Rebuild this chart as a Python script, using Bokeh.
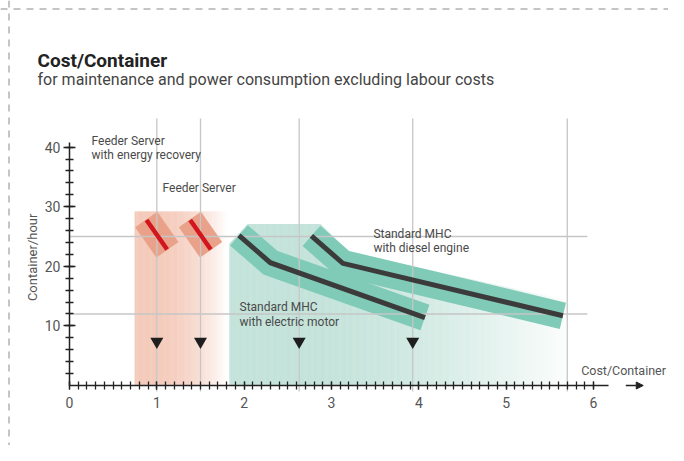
import numpy as np
from bokeh.plotting import figure
from bokeh.models import (Range1d, LinearAxis, FixedTicker, Label, Span, Arrow, NormalHead)
from bokeh.embed import file_html
from bokeh.resources import INLINE

# ---------------- data ----------------
x_ticks = [0, 1, 2, 3, 4, 5, 6]
x_minor = [round(0.1 * i, 1) for i in range(61)]
y_ticks = [10, 20, 30, 40]
y_minor = list(range(2, 41, 2))

# reference lines
vline_x = [1.0, 1.5, 2.63, 3.93, 5.7]
hline_y = [25, 12]

# markers (cost per container)
marker_x = [1.0, 1.5, 2.63, 3.93]
marker_y = [7.4, 7.4, 7.4, 7.4]

# Feeder Server boxes
feeder_x = [1.0, 1.5]
feeder_y = [25.3, 25.3]

# Standard MHC with electric motor
elec_x = [1.94, 2.30, 4.07]
elec_y = [25.2, 20.6, 11.4]

# Standard MHC with diesel engine
dies_x = [2.77, 3.13, 5.65]
dies_y = [25.1, 20.5, 11.7]

# background regions
feeder_region = dict(x0=0.745, x1=1.80, top=29.2)
mhc_top_x = [1.83, 2.04, 2.87, 3.2, 5.7]
mhc_top_y = [23.8, 27.1, 27.1, 22.3, 14.3]

# ---------------- colours ----------------
SALMON_BG = (244, 203, 187)
TEAL_BG = (196, 227, 218)
BAND = "#80cab8"
BOX = "#e9a189"
RED = "#d2161e"
DARK = "#3b3b3b"
GRID = "#c6c6c6"
FONT = "Roboto"


def mix(c, t):
    return "#%02x%02x%02x" % tuple(int(round(ci + (255 - ci) * t)) for ci in c)


# pixel mapping: frame covers whole canvas
W, H = 668, 445
sx = 87.33
sy = 5.96
x0 = -69 / sx
y1 = 385 / sy
p = figure(width=W, height=H, x_range=Range1d(x0, x0 + W / sx), y_range=Range1d(y1 - H / sy, y1),
           x_axis_location=None, y_axis_location=None, toolbar_location=None,
           output_backend="svg", min_border=0, outline_line_color=None,
           background_fill_color="white", border_fill_color="white")
p.grid.grid_line_color = None

# ---- gradient backgrounds ----
step = 0.01
xs = np.arange(feeder_region["x0"], feeder_region["x1"], step)
t = np.clip((xs - 0.9) / (feeder_region["x1"] - 0.9), 0, 1) ** 2.2
p.quad(left=xs, right=xs + step * 1.6, bottom=0, top=feeder_region["top"],
       fill_color=[mix(SALMON_BG, v) for v in t], line_color=None)

xs2 = np.arange(mhc_top_x[0], mhc_top_x[-1], step)
t2 = np.clip((xs2 - 2.8) / (5.74 - 2.8), 0, 1) ** 1.5 * 0.96
tops = np.interp(xs2 + step / 2, mhc_top_x, mhc_top_y)
p.quad(left=xs2, right=np.minimum(xs2 + step * 1.6, mhc_top_x[-1]), bottom=0, top=tops,
       fill_color=[mix(TEAL_BG, v) for v in t2], line_color=None)

# ---- bands ----
p.line(elec_x, elec_y, line_width=27, line_color=BAND, line_join="miter", line_cap="butt")
p.line(dies_x, dies_y, line_width=27, line_color=BAND, line_join="miter", line_cap="butt")

# ---- feeder boxes ----
ang = -55 * np.pi / 180
p.rect(feeder_x, feeder_y, width=37, height=27, width_units="screen", height_units="screen",
       angle=ang, fill_color=BOX, line_color=None)

# ---- reference grid lines ----
p.segment(x0=vline_x, y0=[-1] * len(vline_x), x1=vline_x, y1=[44.8] * len(vline_x),
          line_color=GRID, line_width=1.3)
p.segment(x0=[0] * len(hline_y), y0=hline_y, x1=[5.93] * len(hline_y), y1=hline_y,
          line_color=GRID, line_width=1.3)

# ---- red feeder lines and dark MHC lines ----
p.rect(feeder_x, feeder_y, width=36, height=4.5, width_units="screen", height_units="screen",
       angle=ang, fill_color=RED, line_color=None)
p.line(elec_x, elec_y, line_width=5, line_color=DARK, line_join="miter", line_cap="butt")
p.line(dies_x, dies_y, line_width=5, line_color=DARK, line_join="miter", line_cap="butt")

# ---- markers ----
p.scatter(marker_x, marker_y, marker="inverted_triangle", size=13,
          fill_color="#1e1e1e", line_color=None)

# ---- axes ----
xaxis = LinearAxis(fixed_location=0, bounds=(0, 6.17),
                   ticker=FixedTicker(ticks=x_ticks, minor_ticks=x_minor),
                   axis_line_color="#222222", axis_line_width=1.5,
                   major_tick_line_color="#222222", minor_tick_line_color="#222222",
                   major_tick_line_width=1.3, minor_tick_line_width=1.3,
                   major_tick_in=4, major_tick_out=4, minor_tick_in=4, minor_tick_out=4,
                   major_label_text_font=FONT, major_label_text_font_size="14px",
                   major_label_text_color="#555555", major_label_standoff=7)
p.add_layout(xaxis, "below")

yaxis = LinearAxis(fixed_location=0, bounds=(0, 40.8),
                   ticker=FixedTicker(ticks=y_ticks, minor_ticks=y_minor),
                   axis_line_color="#222222", axis_line_width=1.5,
                   major_tick_line_color="#222222", minor_tick_line_color="#222222",
                   major_tick_line_width=1.3, minor_tick_line_width=1.3,
                   major_tick_in=6, major_tick_out=6, minor_tick_in=4, minor_tick_out=4,
                   major_label_text_font=FONT, major_label_text_font_size="14px",
                   major_label_text_color="#555555", major_label_standoff=3)
p.add_layout(yaxis, "left")

# axis arrow
p.add_layout(Arrow(end=NormalHead(size=7, fill_color="#222222", line_color="#222222"),
                   x_start=6.37, y_start=0, x_end=6.57, y_end=0,
                   line_color="#222222", line_width=1.3))

# ---- texts ----
def lab(x, y, text, size="12px", color="#4a4a4a", **kw):
    p.add_layout(Label(x=x, y=y, text=text, text_font=FONT, text_font_size=size,
                       text_color=color, text_baseline="middle", **kw))

lab(-0.366, 54.6, "Cost/Container", size="19px", color="#222222", text_font_style="bold")
lab(-0.366, 51.3, "for maintenance and power consumption excluding labour costs",
    size="16px", color="#444444")

lab(0.252, 41.1, "Feeder Server")
lab(0.252, 38.6, "with energy recovery")
lab(1.065, 33.2, "Feeder Server")
lab(3.48, 25.5, "Standard MHC")
lab(3.48, 23.0, "with diesel engine")
lab(1.947, 13.25, "Standard MHC")
lab(1.947, 10.6, "with electric motor")

lab(6.83, 2.5, "Cost/Container", size="12.5px", color="#555555", text_align="right")
p.add_layout(Label(x=-0.424, y=21.5, text="Container/hour", text_font=FONT,
                   text_font_size="13px", text_color="#555555", angle=np.pi / 2,
                   text_align="center", text_baseline="middle"))

# ---- dashed page border (top and left) ----
p.add_layout(Span(location=y1 - 8.5 / sy, dimension="width", line_color="#8a8a8a",
                  line_width=1, line_dash="7 6"))
p.add_layout(Span(location=x0 + 8.5 / sx, dimension="height", line_color="#8a8a8a",
                  line_width=1, line_dash="7 6"))

open("out.html", "w").write(file_html(p, INLINE))
